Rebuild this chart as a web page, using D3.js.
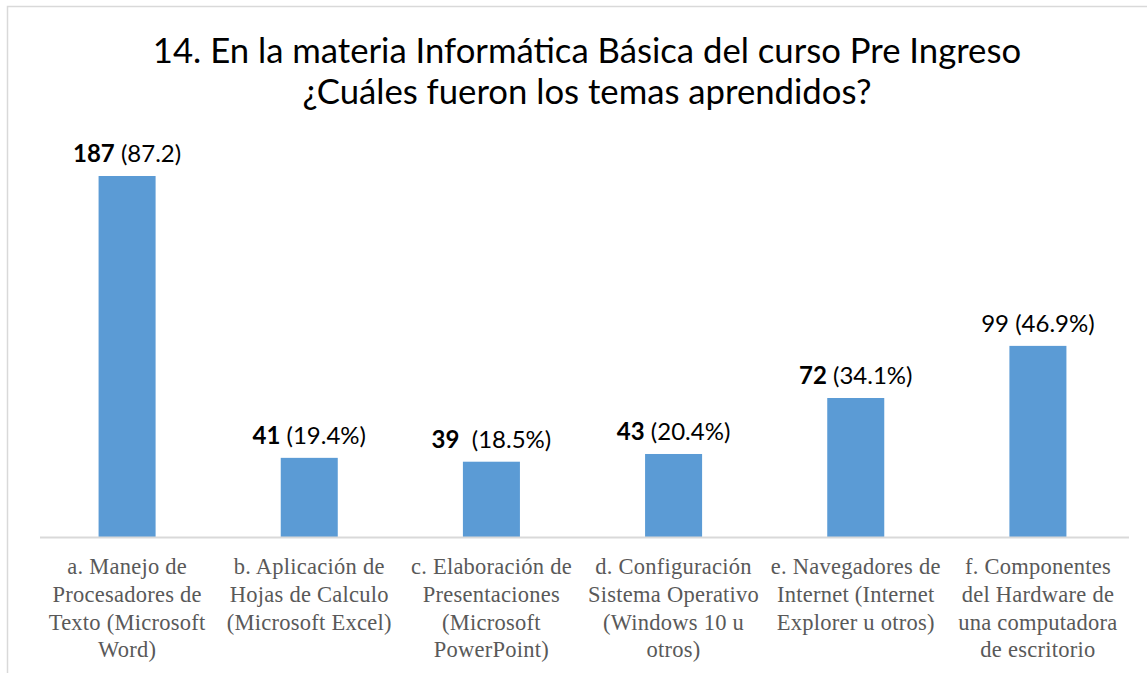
<!DOCTYPE html>
<html>
<head>
<meta charset="utf-8">
<script src="https://d3js.org/d3.v7.min.js"></script>
<style>
    body { margin: 0; background: #ffffff; }
    text.title { font-family: Lato, "Open Sans", sans-serif; font-size: 34.7px; fill: #000000; }
    text.value { font-family: Lato, "Open Sans", sans-serif; font-size: 24px; fill: #000000; }
    text.cat { font-family: "Liberation Serif", "DejaVu Serif", serif; font-size: 22.5px; letter-spacing: 0.25px; fill: #595959; }
</style>
</head>
<body>
<div id="chart"></div>
<script>

    // data
    const categories = [
        ["a. Manejo de", "Procesadores de", "Texto (Microsoft", "Word)"],
        ["b. Aplicación de", "Hojas de Calculo", "(Microsoft Excel)"],
        ["c. Elaboración de", "Presentaciones", "(Microsoft", "PowerPoint)"],
        ["d. Configuración", "Sistema Operativo", "(Windows 10 u", "otros)"],
        ["e. Navegadores de", "Internet (Internet", "Explorer u otros)"],
        ["f. Componentes", "del Hardware de", "una computadora", "de escritorio"]
    ];
    const counts = [187, 41, 39, 43, 72, 99];
    const countBold = [true, true, true, true, true, false];
    const pctLabels = [" (87.2)", " (19.4%)", "  (18.5%)", " (20.4%)", " (34.1%)", " (46.9%)"];
    const titleLines = [
        "14. En la materia Informática Básica del curso Pre Ingreso",
        "¿Cuáles fueron los temas aprendidos?"
    ];

    const W = 1147, H = 673;
    const margin = {top: 176, right: 18, bottom: 136, left: 36};
    const plotW = W - margin.left - margin.right,
          plotH = H - margin.top - margin.bottom;

    const svg = d3.select("#chart")
        .append("svg")
        .attr("width", W)
        .attr("height", H);

    // chart frame (runs off the right and bottom)
    svg.append("rect")
        .attr("x", 7.5).attr("y", 6.5)
        .attr("width", W + 20).attr("height", H + 20)
        .attr("fill", "none")
        .attr("stroke", "#d9d9d9")
        .attr("stroke-width", 1.5);

    // title
    svg.selectAll("text.title")
        .data(titleLines)
        .join("text")
        .attr("class", "title")
        .attr("x", 587)
        .attr("y", (d, i) => 63 + i * 41)
        .attr("text-anchor", "middle")
        .text(d => d);

    const g = svg.append("g")
        .attr("transform", `translate(${margin.left}, ${margin.top})`);

    const x = d3.scaleBand()
        .domain(d3.range(counts.length))
        .range([0, plotW])
        .paddingInner(0.687)
        .paddingOuter(0.3435);

    const y = d3.scaleLinear()
        .domain([0, 187])
        .range([plotH, 0]);

    // bars
    g.selectAll("rect.bar")
        .data(counts)
        .join("rect")
        .attr("class", "bar")
        .attr("x", (d, i) => x(i))
        .attr("y", d => y(d))
        .attr("width", x.bandwidth())
        .attr("height", d => plotH - y(d))
        .attr("fill", "#5b9bd5");

    // baseline
    g.append("line")
        .attr("x1", 4).attr("x2", plotW)
        .attr("y1", plotH + 0.5).attr("y2", plotH + 0.5)
        .attr("stroke", "#d9d9d9")
        .attr("stroke-width", 2);

    // value labels
    const vl = g.selectAll("text.value")
        .data(counts)
        .join("text")
        .attr("class", "value")
        .attr("x", (d, i) => x(i) + x.bandwidth() / 2)
        .attr("y", d => y(d) - 14)
        .attr("text-anchor", "middle")
        .attr("xml:space", "preserve");
    vl.append("tspan")
        .attr("font-weight", (d, i) => countBold[i] ? "bold" : "normal")
        .text(d => d);
    vl.append("tspan")
        .text((d, i) => pctLabels[i]);

    // category labels
    const cl = g.selectAll("text.cat")
        .data(categories)
        .join("text")
        .attr("class", "cat")
        .attr("text-anchor", "middle")
        .attr("transform", (d, i) => `translate(${x(i) + x.bandwidth() / 2}, ${plotH + 37})`);
    cl.selectAll("tspan")
        .data(d => d)
        .join("tspan")
        .attr("x", 0)
        .attr("y", (d, i) => i * 27.8)
        .text(d => d);

</script>
</body>
</html>
